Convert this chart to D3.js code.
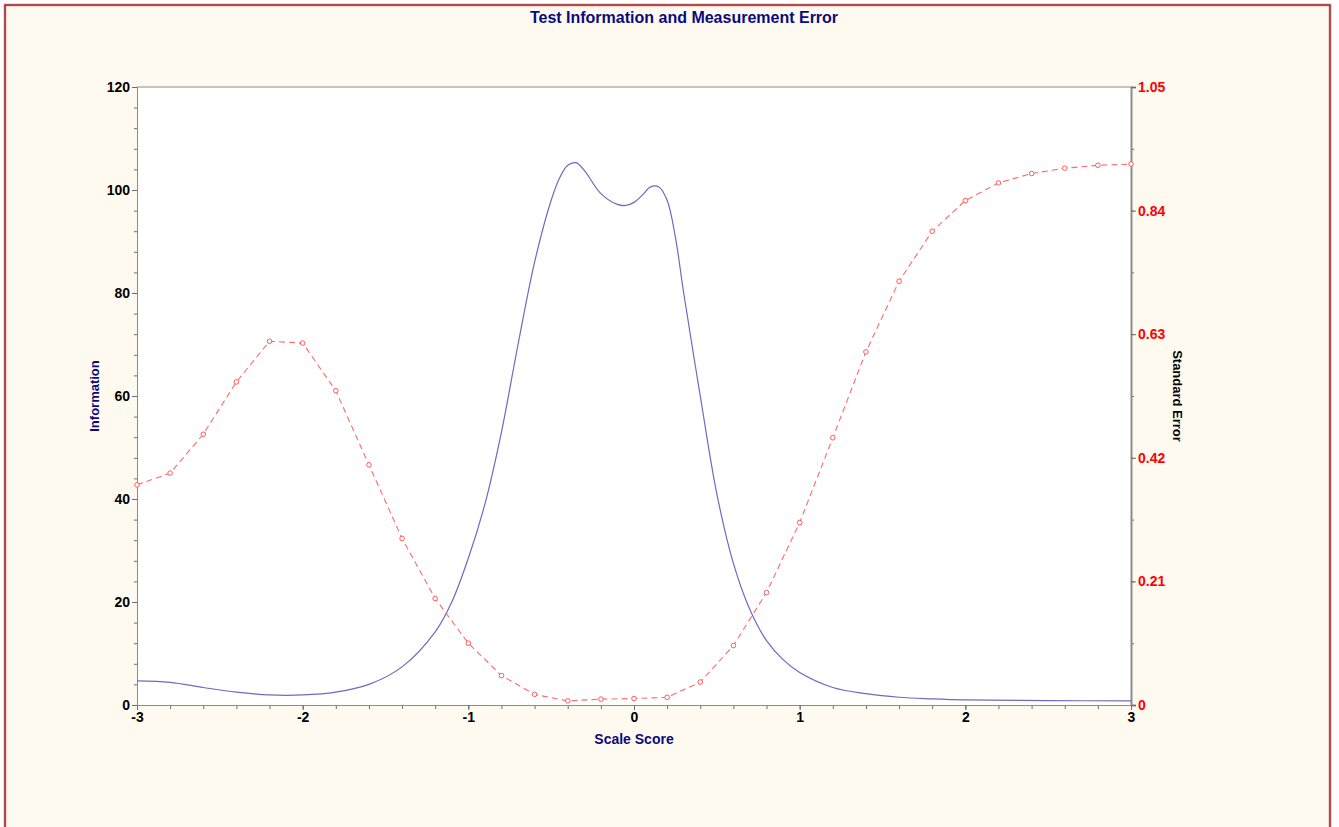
<!DOCTYPE html>
<html>
<head>
<meta charset="utf-8">
<script src="https://cdn.jsdelivr.net/npm/d3@7"></script>
<style>
    body { margin: 0; background: #ffffff; }
    text { font-family: Arial, "Liberation Sans", sans-serif; }
</style>
</head>
<body>
<div id="chart"></div>
<script>
// scale score grid of the information curve
var infoTheta = [-3.0, -2.8, -2.6, -2.4, -2.2, -2.0, -1.8, -1.6, -1.4, -1.2, -1.1, -1.0, -0.9, -0.8, -0.7, -0.6, -0.5, -0.45,
    -0.4, -0.35, -0.3, -0.2, -0.1, -0.05, 0.0, 0.05, 0.1, 0.15, 0.2, 0.25, 0.3, 0.4, 0.5, 0.6, 0.7, 0.8, 0.9, 1.0,
    1.2, 1.4, 1.6, 1.8, 2.0, 2.5, 3.0];
// test information
var infoValues = [4.7, 4.4, 3.4, 2.5, 1.95, 1.95, 2.5, 4.0, 7.4, 14.2, 20.0, 28.5, 39.0, 53.0, 70.0, 86.0, 98.0, 102.3,
    104.8, 105.3, 103.8, 99.3, 97.2, 97.0, 97.6, 99.0, 100.6, 100.6, 98.0, 90.8, 80.0, 60.0, 41.0, 27.5, 18.5, 12.5, 8.8, 6.3,
    3.4, 2.2, 1.5, 1.2, 1.0, 0.85, 0.8];

// scale score points of the standard error curve
var seTheta = [-3.0, -2.8, -2.6, -2.4, -2.2, -2.0, -1.8, -1.6, -1.4, -1.2, -1.0, -0.8, -0.6, -0.4, -0.2, 0.0,
    0.2, 0.4, 0.6, 0.8, 1.0, 1.2, 1.4, 1.6, 1.8, 2.0, 2.2, 2.4, 2.6, 2.8, 3.0];
var seValues = [0.374, 0.394, 0.460, 0.549, 0.618, 0.615, 0.534, 0.408, 0.283, 0.181, 0.105, 0.050, 0.018, 0.007,
    0.010, 0.011, 0.013, 0.039, 0.101, 0.191, 0.310, 0.454, 0.600, 0.720, 0.805, 0.857, 0.887, 0.903, 0.912, 0.917, 0.919];

// tick labels
var xTicks = [-3, -2, -1, 0, 1, 2, 3];
var infoTicks = [0, 20, 40, 60, 80, 100, 120];
var seTicks = [0, 0.21, 0.42, 0.63, 0.84, 1.05];

var width = 1339, height = 827;
var margin = {top: 87, right: 208, bottom: 122, left: 137};
var plotW = width - margin.left - margin.right;
var plotH = height - margin.top - margin.bottom;

var svg = d3.select("#chart").append("svg")
    .attr("width", width)
    .attr("height", height);

//outer panel with its dark red frame
svg.append("rect")
    .attr("x", 5).attr("y", 5)
    .attr("width", 1325).attr("height", 850)
    .attr("fill", "#fffaf0")
    .attr("stroke", "#e8b8b8")
    .attr("stroke-width", 3);
svg.append("rect")
    .attr("x", 5).attr("y", 5)
    .attr("width", 1325).attr("height", 850)
    .attr("fill", "none")
    .attr("stroke", "#a0262a")
    .attr("stroke-width", 1.5);

svg.append("text")
    .attr("x", 684).attr("y", 23)
    .attr("text-anchor", "middle")
    .attr("font-size", 16).attr("font-weight", "bold")
    .attr("fill", "#0a0a80")
    .text("Test Information and Measurement Error");

var g = svg.append("g").attr("transform", "translate(" + margin.left + "," + margin.top + ")");

g.append("rect")
    .attr("width", plotW).attr("height", plotH)
    .attr("fill", "#ffffff");

var xScale = d3.scaleLinear().domain([-3, 3]).range([0, plotW]);
var yInfo = d3.scaleLinear().domain([0, 120]).range([plotH, 0]);
var ySe = d3.scaleLinear().domain([0, 1.05]).range([plotH, 0]);

//minor ticks first, then the labelled axes on top
g.append("g")
    .attr("transform", "translate(0," + plotH + ")")
    .call(d3.axisBottom(xScale).tickValues(d3.range(-3, 3.01, 0.2)).tickSize(4).tickFormat(""));
g.append("g")
    .call(d3.axisLeft(yInfo).tickValues(d3.range(0, 121, 4)).tickSize(3).tickFormat(""));
g.append("g")
    .attr("transform", "translate(" + plotW + ",0)")
    .call(d3.axisRight(ySe).tickValues(d3.range(0, 1.06, 0.105)).tickSize(3).tickFormat(""));

var xAxis = g.append("g")
    .attr("transform", "translate(0," + plotH + ")")
    .call(d3.axisBottom(xScale).tickValues(xTicks).tickSize(5).tickPadding(2).tickFormat(function(d) { return String(d); }));
var leftAxis = g.append("g")
    .call(d3.axisLeft(yInfo).tickValues(infoTicks).tickSize(5).tickPadding(2));
var rightAxis = g.append("g")
    .attr("transform", "translate(" + plotW + ",0)")
    .call(d3.axisRight(ySe).tickValues(seTicks).tickSize(5).tickPadding(2).tickFormat(function(d) { return d === 0 ? "0" : d3.format(".2f")(d); }));

g.selectAll(".domain").attr("stroke", "#8c8c8c");
g.selectAll(".tick line").attr("stroke", "#6e6e6e");
g.selectAll(".tick text").attr("font-size", 14).attr("font-weight", "bold")
    .attr("font-family", "Arial, 'Liberation Sans', sans-serif").attr("fill", "#000");
rightAxis.selectAll(".tick text").attr("fill", "#ff0000");
rightAxis.select(".domain").attr("stroke-width", 2);

//top frame line of the plot
g.append("line")
    .attr("x1", 0).attr("x2", plotW)
    .attr("y1", 0).attr("y2", 0)
    .attr("stroke", "#8c8c8c");

//axis titles
svg.append("text")
    .attr("x", margin.left + plotW / 2).attr("y", 744)
    .attr("text-anchor", "middle")
    .attr("font-size", 14).attr("font-weight", "bold")
    .attr("fill", "#0a0a80")
    .text("Scale Score");
svg.append("text")
    .attr("transform", "translate(99," + (margin.top + plotH / 2) + ") rotate(-90)")
    .attr("text-anchor", "middle")
    .attr("font-size", 13).attr("font-weight", "bold")
    .attr("fill", "#0a0a80")
    .text("Information");
svg.append("text")
    .attr("transform", "translate(1173," + (margin.top + plotH / 2) + ") rotate(90)")
    .attr("text-anchor", "middle")
    .attr("font-size", 13).attr("font-weight", "bold")
    .attr("fill", "#000")
    .text("Standard Error");

//information curve
var infoData = infoTheta.map(function(t, i) { return {x: t, y: infoValues[i]}; });
var infoLine = d3.line()
    .x(function(d) { return xScale(d.x); })
    .y(function(d) { return yInfo(d.y); })
    .curve(d3.curveCatmullRom.alpha(0.5));
g.append("path")
    .datum(infoData)
    .attr("d", infoLine)
    .attr("fill", "none")
    .attr("stroke", "#6b6bc0")
    .attr("stroke-width", 1.2);

//standard error curve with open markers
var seData = seTheta.map(function(t, i) { return {x: t, y: seValues[i]}; });
var seLine = d3.line()
    .x(function(d) { return xScale(d.x); })
    .y(function(d) { return ySe(d.y); });
g.append("path")
    .datum(seData)
    .attr("d", seLine)
    .attr("fill", "none")
    .attr("stroke", "#ff6a6a")
    .attr("stroke-width", 1.1)
    .attr("stroke-dasharray", "6,4");
g.selectAll("circle.se").data(seData).enter().append("circle")
    .attr("class", "se")
    .attr("cx", function(d) { return xScale(d.x); })
    .attr("cy", function(d) { return ySe(d.y); })
    .attr("r", 2.3)
    .attr("fill", "#ffffff")
    .attr("stroke", "#ff5a5a")
    .attr("stroke-width", 1);
</script>
</body>
</html>
